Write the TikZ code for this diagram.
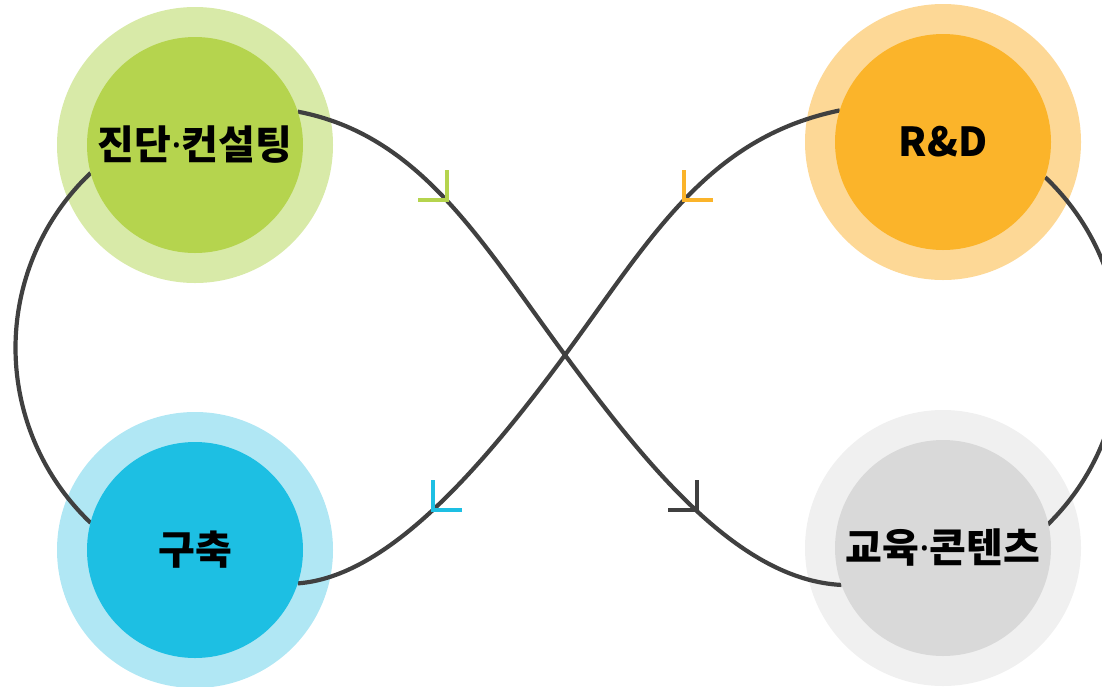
\documentclass[tikz,border=0pt]{standalone}
\usepackage{fontspec}
\setmainfont{Noto Sans CJK KR}
\newfontfamily\dotfont{Noto Sans}
\newcommand{\middot}{{\dotfont\bfseries ·}}
\definecolor{diagC}{HTML}{B5D44E}
\definecolor{diagR}{HTML}{D8EAA8}
\definecolor{rndC}{HTML}{FBB42A}
\definecolor{rndR}{HTML}{FDD896}
\definecolor{buildC}{HTML}{1DBFE3}
\definecolor{buildR}{HTML}{B0E7F4}
\definecolor{eduC}{HTML}{D9D9D9}
\definecolor{eduR}{HTML}{F0F0F0}
\definecolor{lineC}{HTML}{404040}
\pgfdeclarelayer{ring}
\pgfdeclarelayer{link}
\pgfsetlayers{ring,link,main}
\tikzset{
	disc/.style={circle,minimum size=216pt,inner sep=0pt,outer sep=0pt,font=\fontsize{40}{44}\selectfont\bfseries},
	flow/.style={draw=lineC,line width=4.2pt},
	barb/.pic={\draw[line width=4pt] (0,-30) -- (0,0) -- (-29,0);}
}
\begin{document}
\begin{tikzpicture}[x=1pt,y=-1pt]
	\useasboundingbox (0,0) rectangle (1102,686);
	\begin{pgfonlayer}{ring}
		\foreach \pos/\col in {{195,145}/diagR,{943,142}/rndR,{195,550}/buildR,{943,548}/eduR}
			\fill[\col] (\pos) circle[radius=138pt];
	\end{pgfonlayer}
	\node[disc,fill=diagC] (diag) at (195,145) {진단\middot 컨설팅};
	\node[disc,fill=rndC] (rnd) at (943,142) {R\&D};
	\node[disc,fill=buildC] (build) at (195,550) {구축};
	\node[disc,fill=eduC] (edu) at (943,548) {교육\middot 콘텐츠};
	\coordinate (cross) at (565,355);
	\begin{pgfonlayer}{link}
		\draw[flow] (diag.18) .. controls (420,135) and (480,240) .. (cross) .. controls (650,470) and (740,580) .. (edu.200);
		\draw[flow] (rnd.163) .. controls (706,138) and (650,240) .. (cross) .. controls (480,470) and (387,577) .. (build.342);
		\draw[flow] (diag.195) arc[start angle=133.5,end angle=226.5,radius=241.2pt];
		\draw[flow] (rnd.341) arc[start angle=46.5,end angle=-46.5,radius=241.2pt];
	\end{pgfonlayer}
	\pic[color=diagC] at (447,200) {barb};
	\pic[color=rndC,xscale=-1] at (684,200) {barb};
	\pic[color=buildC,xscale=-1] at (433,510) {barb};
	\pic[color=lineC] at (697,510) {barb};
\end{tikzpicture}
\end{document}
